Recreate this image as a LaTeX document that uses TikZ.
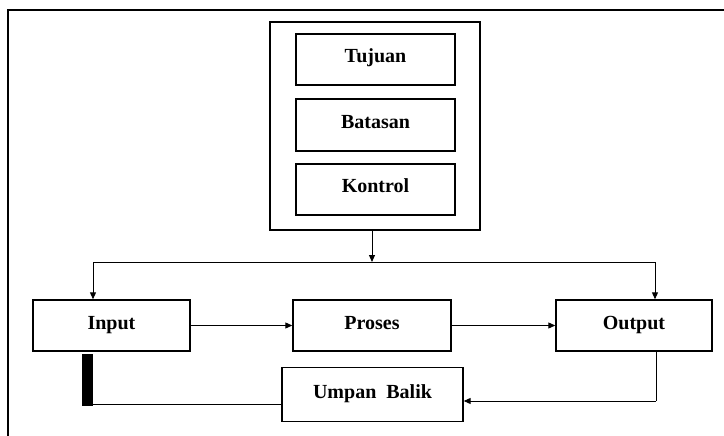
\documentclass[tikz,border=0pt]{standalone}
\usepackage{fontspec}
\setmainfont{Liberation Serif}
\usetikzlibrary{arrows.meta}
\begin{document}
\begin{tikzpicture}[x=1pt,y=-1pt,
  box/.style={draw,line width=1.4pt,inner sep=0pt,text height=13pt,text depth=6pt,font=\fontsize{20}{24}\selectfont\bfseries},
  conn/.style={line width=1pt},
  arr/.style={conn,-{Triangle[length=7pt,width=6pt]}}]
\useasboundingbox (0,0) rectangle (724,436);
\fill[white] (0,0) rectangle (724,436);
% outer frame
\draw[line width=1.6pt] (8,436) -- (8,10) -- (726,10);
% container
\node[draw,line width=1.4pt,minimum width=210pt,minimum height=208pt] (cont) at (375,126) {};
\node[box,minimum width=159pt,minimum height=51pt] (tuj) at (375.5,59.5) {Tujuan};
\node[box,minimum width=159pt,minimum height=52pt] (bat) at (375.5,125) {Batasan};
\node[box,minimum width=159pt,minimum height=51pt] (kon) at (375.5,189.5) {Kontrol};
% main row
\node[box,minimum width=157pt,minimum height=51pt] (inp) at (111.5,325.5) {Input};
\node[box,minimum width=158pt,minimum height=51pt] (pro) at (372,325.5) {Proses};
\node[box,minimum width=156pt,minimum height=51pt] (out) at (634,325.5) {Output};
\node[box,minimum width=181pt,minimum height=54pt] (umb) at (372.5,394.5) {Umpan\ \ Balik};
% distribution
\coordinate (jn) at (372,262);
\coordinate (jl) at (93,262);
\coordinate (jr) at (655,262);
\draw[arr] (cont.south -| jn) -- (jn);
\draw[conn] (jl) -- (jr);
\draw[arr] (jl) -- (jl |- inp.north);
\draw[arr] (jr) -- (jr |- out.north);
% flow
\draw[arr] (inp.east) -- (pro.west);
\draw[arr] (pro.east) -- (out.west);
% feedback
\coordinate (fr) at (656,401);
\coordinate (fl) at (90,404.5);
\draw[conn] (out.south -| fr) -- (fr);
\draw[arr] (fr) -- (fr -| umb.east);
\draw[conn] (umb.west |- fl) -- (fl);
\node[fill=black,inner sep=0pt,minimum width=11pt,minimum height=52pt,anchor=south west] (bar) at (81.5,406) {};
\end{tikzpicture}
\end{document}
